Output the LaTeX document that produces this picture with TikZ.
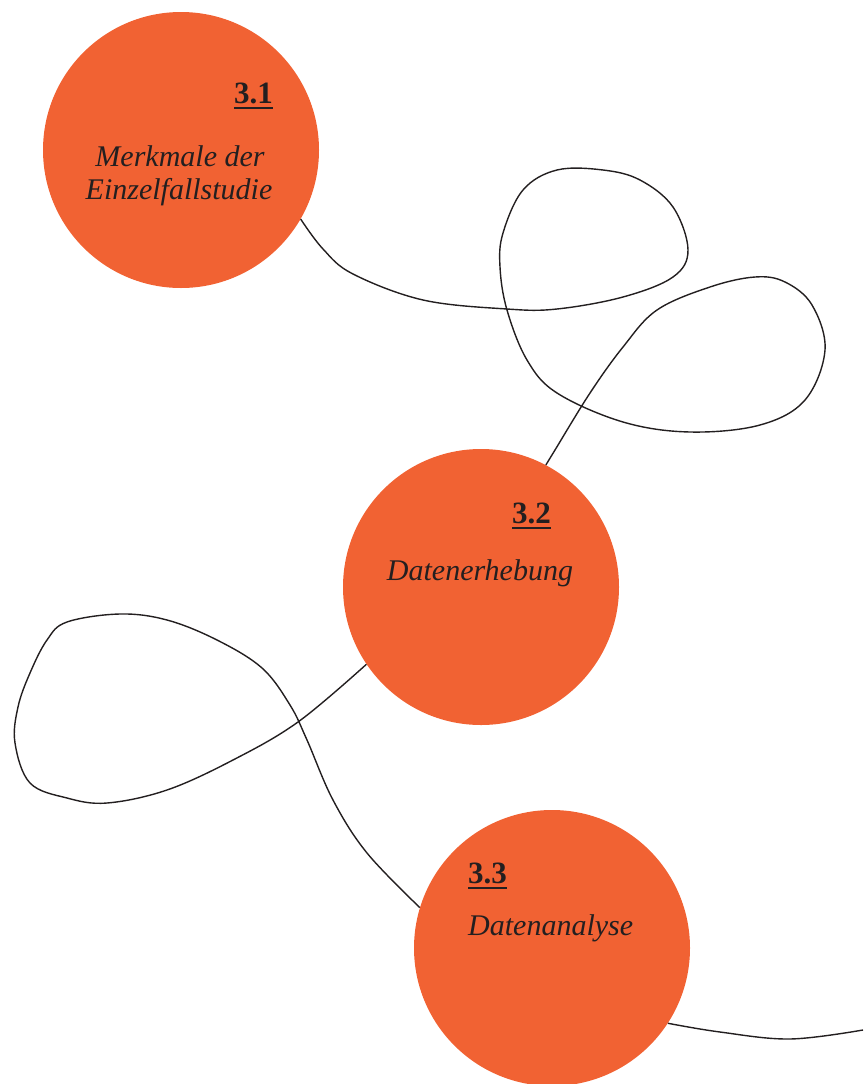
\documentclass[tikz,border=0pt]{standalone}
\usepackage{fontspec}
\setmainfont{Liberation Serif}
\definecolor{dotorange}{HTML}{F16233}
\definecolor{ink}{HTML}{231F20}
\begin{document}
\begin{tikzpicture}[x=1pt,y=-1pt,
  topic/.style={circle,fill=dotorange,inner sep=0pt,minimum size=276pt},
  numlabel/.style={inner sep=0pt,anchor=base west,text=ink,font=\fontsize{31}{33}\selectfont\bfseries},
  titlelabel/.style={inner sep=0pt,text=ink,font=\fontsize{30}{33}\selectfont\itshape},
  uline/.style={draw=ink,line width=2pt},
  thread/.style={draw=ink,line width=1.4pt,line join=round}]
\useasboundingbox (0,0) rectangle (863,1084);

% topic circles
\node[topic] (c1) at (181,150) {};
\node[topic] (c2) at (481,587) {};
\node[topic] (c3) at (552,948) {};

% section numbers with underline
\node[numlabel] (n1) at (234,103) {3.1};
\node[numlabel] (n2) at (512,523) {3.2};
\node[numlabel] (n3) at (468,883) {3.3};
\foreach \n in {n1,n2,n3}
  \draw[uline] ([yshift=-4pt]\n.south west) -- ([yshift=-4pt]\n.south east);

% titles
\node[titlelabel,anchor=base] (t1a) at (180,166) {Merkmale der};
\node[titlelabel,anchor=base] (t1b) at (179,199) {Einzelfallstudie};
\node[titlelabel,anchor=base] (t2) at (480,580) {Datenerhebung};
\node[titlelabel,anchor=base west] (t3) at (468,935) {Datenanalyse};

% loose end of the last thread
\coordinate (tail) at (863,1030);

% looping threads between the topics
\draw[thread] plot[smooth,tension=0.6] coordinates {
  (c1.-30) (323,249) (353,274) (423,300) (507,309) (557,309) (623,297)
  (673,277) (688,250) (673,207) (640,180) (603,170) (557,170) (523,190)
  (503,233) (500,267) (507,310) (527,360) (557,393) (623,422) (690,432)
  (760,425) (805,400) (825,350) (812,305) (785,282) (755,277) (710,287)
  (657,310) (623,347) (590,393) (555,450) (c2.62)};

\draw[thread] plot[smooth,tension=0.6] coordinates {
  (c2.214) (298,722) (233,760) (167,790) (107,803) (67,798) (30,783)
  (15,743) (18,707) (30,673) (47,640) (67,622) (120,614) (167,620)
  (217,640) (262,668) (290,705) (307,740) (333,800) (367,853) (c3.163)};

\draw[thread] plot[smooth,tension=0.6] coordinates {
  (c3.-33) (720,1032) (790,1039) (tail)};
\end{tikzpicture}
\end{document}
